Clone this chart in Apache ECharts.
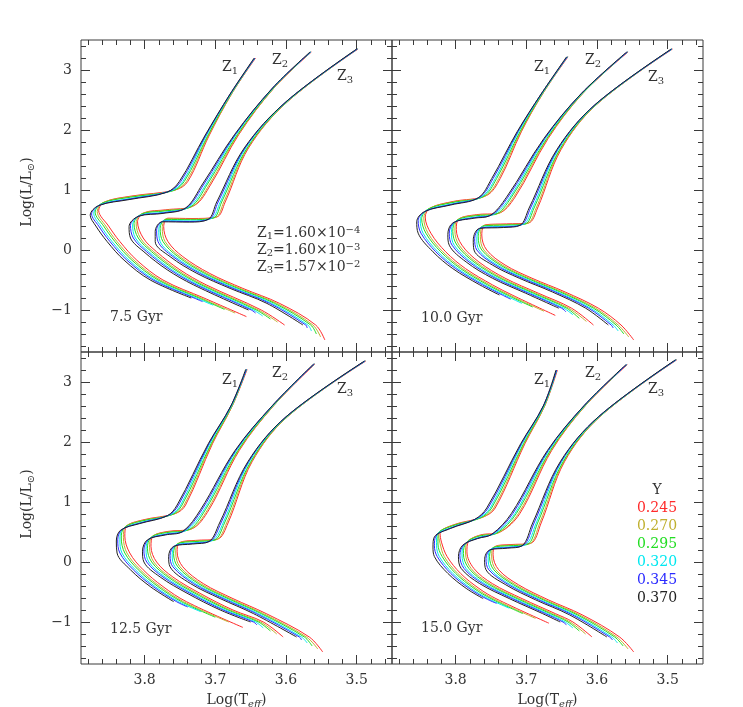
<!DOCTYPE html>
<html><head><meta charset="utf-8">
<script src="https://cdn.jsdelivr.net/npm/echarts@6.0.0/dist/echarts.min.js"></script>
<style>html,body{margin:0;padding:0;background:#fff}#c{width:743px;height:707px}</style>
</head><body><div id="c"></div>
<script>
// ---------- labels / ticks ----------
const Y_VALUES = ['0.245', '0.270', '0.295', '0.320', '0.345', '0.370'];
const Y_COLORS = ['#ff2a2a', '#c0b030', '#22dd22', '#00e8f0', '#2a2aff', '#222222'];
const AGES = ['7.5 Gyr', '10.0 Gyr', '12.5 Gyr', '15.0 Gyr'];
const Z_NAMES = ['1', '2', '3'];
const Z_MANT = ['1.60', '1.60', '1.57'];
const Z_EXP = ['\u22124', '\u22123', '\u22122'];
const X_MAJOR = [3.5, 3.6, 3.7, 3.8];
const X_MINOR = [3.46, 3.48, 3.52, 3.54, 3.56, 3.58, 3.62, 3.64, 3.66, 3.68, 3.72, 3.74, 3.76, 3.78, 3.82, 3.84, 3.86, 3.88];
const Y_MAJOR = [-1, 0, 1, 2, 3];
const Y_MINOR = [-1.6, -1.4, -1.2, -0.8, -0.6, -0.4, -0.2, 0.2, 0.4, 0.6, 0.8, 1.2, 1.4, 1.6, 1.8, 2.2, 2.4, 2.6, 2.8, 3.2, 3.4];

// ---------- isochrones [logTeff, logL], order of Y_VALUES ----------
const iso75_Z1 = [
 [[3.656,-1.11],[3.716,-0.80],[3.774,-0.50],[3.811,-0.17],[3.835,0.14],[3.851,0.40],[3.865,0.66],[3.857,0.80],[3.818,0.90],[3.757,1.00],[3.739,1.14],[3.709,1.90],[3.677,2.60],[3.643,3.20]],
 [[3.672,-1.05],[3.720,-0.80],[3.778,-0.50],[3.815,-0.17],[3.839,0.14],[3.855,0.40],[3.867,0.64],[3.859,0.79],[3.819,0.89],[3.759,0.99],[3.741,1.14],[3.710,1.90],[3.677,2.60],[3.644,3.20]],
 [[3.687,-0.99],[3.723,-0.80],[3.781,-0.50],[3.818,-0.17],[3.842,0.14],[3.858,0.40],[3.870,0.63],[3.860,0.78],[3.820,0.88],[3.762,0.98],[3.744,1.14],[3.711,1.90],[3.678,2.60],[3.644,3.20]],
 [[3.703,-0.92],[3.727,-0.80],[3.785,-0.50],[3.822,-0.17],[3.846,0.14],[3.862,0.40],[3.872,0.61],[3.862,0.76],[3.820,0.86],[3.764,0.98],[3.746,1.14],[3.713,1.90],[3.678,2.60],[3.644,3.20]],
 [[3.718,-0.86],[3.730,-0.80],[3.788,-0.50],[3.825,-0.17],[3.849,0.14],[3.865,0.40],[3.875,0.60],[3.863,0.75],[3.821,0.85],[3.767,0.97],[3.749,1.14],[3.714,1.90],[3.679,2.60],[3.644,3.20]],
 [[3.734,-0.80],[3.792,-0.50],[3.829,-0.17],[3.853,0.14],[3.869,0.40],[3.877,0.58],[3.865,0.74],[3.822,0.84],[3.769,0.96],[3.751,1.14],[3.715,1.90],[3.679,2.60],[3.645,3.20]]
];
const iso75_Z2 = [
 [[3.602,-1.25],[3.635,-1.00],[3.713,-0.58],[3.750,-0.33],[3.783,-0.03],[3.802,0.20],[3.810,0.47],[3.801,0.62],[3.770,0.67],[3.730,0.74],[3.706,1.10],[3.667,1.92],[3.617,2.70],[3.564,3.30]],
 [[3.612,-1.20],[3.639,-1.00],[3.717,-0.58],[3.754,-0.33],[3.787,-0.03],[3.806,0.20],[3.812,0.45],[3.803,0.61],[3.771,0.66],[3.732,0.73],[3.708,1.10],[3.668,1.92],[3.617,2.70],[3.565,3.30]],
 [[3.622,-1.15],[3.642,-1.00],[3.720,-0.58],[3.757,-0.33],[3.790,-0.03],[3.809,0.20],[3.815,0.44],[3.804,0.60],[3.772,0.65],[3.735,0.72],[3.711,1.10],[3.669,1.92],[3.618,2.70],[3.565,3.30]],
 [[3.633,-1.10],[3.646,-1.00],[3.724,-0.58],[3.761,-0.33],[3.794,-0.03],[3.813,0.20],[3.817,0.42],[3.806,0.58],[3.772,0.63],[3.737,0.72],[3.713,1.10],[3.671,1.92],[3.618,2.70],[3.565,3.30]],
 [[3.643,-1.05],[3.649,-1.00],[3.727,-0.58],[3.764,-0.33],[3.797,-0.03],[3.816,0.20],[3.820,0.41],[3.807,0.57],[3.773,0.62],[3.740,0.71],[3.716,1.10],[3.672,1.92],[3.619,2.70],[3.565,3.30]],
 [[3.653,-1.00],[3.731,-0.58],[3.768,-0.33],[3.801,-0.03],[3.820,0.20],[3.822,0.39],[3.809,0.56],[3.774,0.61],[3.742,0.70],[3.718,1.10],[3.673,1.92],[3.619,2.70],[3.566,3.30]]
];
const iso75_Z3 = [
 [[3.545,-1.50],[3.558,-1.25],[3.609,-0.89],[3.661,-0.64],[3.708,-0.39],[3.746,-0.11],[3.767,0.14],[3.773,0.39],[3.767,0.53],[3.733,0.525],[3.698,0.55],[3.686,0.80],[3.653,1.70],[3.598,2.47],[3.498,3.35]],
 [[3.551,-1.45],[3.562,-1.25],[3.613,-0.89],[3.665,-0.64],[3.712,-0.39],[3.750,-0.11],[3.771,0.14],[3.775,0.37],[3.769,0.52],[3.734,0.515],[3.700,0.54],[3.688,0.80],[3.654,1.70],[3.598,2.47],[3.499,3.35]],
 [[3.557,-1.40],[3.565,-1.25],[3.616,-0.89],[3.668,-0.64],[3.715,-0.39],[3.753,-0.11],[3.774,0.14],[3.778,0.36],[3.770,0.51],[3.735,0.505],[3.703,0.53],[3.691,0.80],[3.655,1.70],[3.599,2.47],[3.499,3.35]],
 [[3.564,-1.35],[3.569,-1.25],[3.620,-0.89],[3.672,-0.64],[3.719,-0.39],[3.757,-0.11],[3.778,0.14],[3.780,0.34],[3.772,0.49],[3.735,0.485],[3.705,0.53],[3.693,0.80],[3.657,1.70],[3.599,2.47],[3.499,3.35]],
 [[3.570,-1.30],[3.572,-1.25],[3.623,-0.89],[3.675,-0.64],[3.722,-0.39],[3.760,-0.11],[3.781,0.14],[3.783,0.33],[3.773,0.48],[3.736,0.475],[3.708,0.52],[3.696,0.80],[3.658,1.70],[3.600,2.47],[3.499,3.35]],
 [[3.576,-1.25],[3.627,-0.89],[3.679,-0.64],[3.726,-0.39],[3.764,-0.11],[3.785,0.14],[3.785,0.31],[3.775,0.47],[3.737,0.465],[3.710,0.51],[3.698,0.80],[3.659,1.70],[3.600,2.47],[3.500,3.35]]
];
const iso100_Z1 = [
 [[3.659,-1.09],[3.720,-0.75],[3.748,-0.58],[3.786,-0.31],[3.814,-0.03],[3.835,0.28],[3.843,0.55],[3.836,0.70],[3.803,0.81],[3.756,0.91],[3.737,1.19],[3.707,1.97],[3.677,2.60],[3.641,3.22]],
 [[3.675,-1.02],[3.724,-0.75],[3.752,-0.58],[3.790,-0.31],[3.818,-0.03],[3.839,0.28],[3.845,0.53],[3.838,0.69],[3.804,0.80],[3.758,0.90],[3.739,1.19],[3.708,1.97],[3.677,2.60],[3.642,3.22]],
 [[3.691,-0.95],[3.727,-0.75],[3.755,-0.58],[3.793,-0.31],[3.821,-0.03],[3.842,0.28],[3.848,0.52],[3.839,0.68],[3.805,0.79],[3.761,0.89],[3.742,1.19],[3.709,1.97],[3.678,2.60],[3.642,3.22]],
 [[3.706,-0.89],[3.731,-0.75],[3.759,-0.58],[3.797,-0.31],[3.825,-0.03],[3.846,0.28],[3.850,0.50],[3.841,0.66],[3.805,0.77],[3.763,0.89],[3.744,1.19],[3.711,1.97],[3.678,2.60],[3.642,3.22]],
 [[3.722,-0.82],[3.734,-0.75],[3.762,-0.58],[3.800,-0.31],[3.828,-0.03],[3.849,0.28],[3.853,0.49],[3.842,0.65],[3.806,0.76],[3.766,0.88],[3.747,1.19],[3.712,1.97],[3.679,2.60],[3.642,3.22]],
 [[3.738,-0.75],[3.766,-0.58],[3.804,-0.31],[3.832,-0.03],[3.853,0.28],[3.855,0.47],[3.844,0.64],[3.807,0.75],[3.768,0.87],[3.749,1.19],[3.713,1.97],[3.679,2.60],[3.643,3.22]]
];
const iso100_Z2 = [
 [[3.605,-1.25],[3.636,-0.97],[3.683,-0.72],[3.730,-0.47],[3.767,-0.20],[3.791,0.08],[3.799,0.34],[3.796,0.51],[3.770,0.59],[3.740,0.61],[3.716,0.88],[3.669,1.86],[3.620,2.61],[3.556,3.30]],
 [[3.615,-1.19],[3.640,-0.97],[3.687,-0.72],[3.734,-0.47],[3.771,-0.20],[3.795,0.08],[3.801,0.32],[3.798,0.50],[3.771,0.58],[3.742,0.60],[3.718,0.88],[3.670,1.86],[3.620,2.61],[3.557,3.30]],
 [[3.625,-1.14],[3.643,-0.97],[3.690,-0.72],[3.737,-0.47],[3.774,-0.20],[3.798,0.08],[3.804,0.31],[3.799,0.49],[3.772,0.57],[3.745,0.59],[3.721,0.88],[3.671,1.86],[3.621,2.61],[3.557,3.30]],
 [[3.634,-1.08],[3.647,-0.97],[3.694,-0.72],[3.741,-0.47],[3.778,-0.20],[3.802,0.08],[3.806,0.29],[3.801,0.47],[3.772,0.55],[3.747,0.59],[3.723,0.88],[3.673,1.86],[3.621,2.61],[3.557,3.30]],
 [[3.644,-1.03],[3.650,-0.97],[3.697,-0.72],[3.744,-0.47],[3.781,-0.20],[3.805,0.08],[3.809,0.28],[3.802,0.46],[3.773,0.54],[3.750,0.58],[3.726,0.88],[3.674,1.86],[3.622,2.61],[3.557,3.30]],
 [[3.654,-0.97],[3.701,-0.72],[3.748,-0.47],[3.785,-0.20],[3.809,0.08],[3.811,0.26],[3.804,0.45],[3.774,0.53],[3.752,0.57],[3.728,0.88],[3.675,1.86],[3.622,2.61],[3.558,3.30]]
];
const iso100_Z3 = [
 [[3.548,-1.50],[3.566,-1.25],[3.598,-0.97],[3.645,-0.70],[3.692,-0.47],[3.730,-0.25],[3.756,0.00],[3.763,0.25],[3.758,0.42],[3.728,0.435],[3.697,0.45],[3.684,0.70],[3.651,1.67],[3.601,2.42],[3.493,3.35]],
 [[3.555,-1.45],[3.570,-1.25],[3.602,-0.97],[3.649,-0.70],[3.696,-0.47],[3.734,-0.25],[3.760,0.00],[3.765,0.23],[3.760,0.41],[3.729,0.425],[3.699,0.44],[3.686,0.70],[3.652,1.67],[3.601,2.42],[3.494,3.35]],
 [[3.562,-1.40],[3.573,-1.25],[3.605,-0.97],[3.652,-0.70],[3.699,-0.47],[3.737,-0.25],[3.763,0.00],[3.768,0.22],[3.761,0.40],[3.730,0.415],[3.702,0.43],[3.689,0.70],[3.653,1.67],[3.602,2.42],[3.494,3.35]],
 [[3.570,-1.35],[3.577,-1.25],[3.609,-0.97],[3.656,-0.70],[3.703,-0.47],[3.741,-0.25],[3.767,0.00],[3.770,0.20],[3.763,0.38],[3.730,0.395],[3.704,0.43],[3.691,0.70],[3.655,1.67],[3.602,2.42],[3.494,3.35]],
 [[3.577,-1.30],[3.580,-1.25],[3.612,-0.97],[3.659,-0.70],[3.706,-0.47],[3.744,-0.25],[3.770,0.00],[3.773,0.19],[3.764,0.37],[3.731,0.385],[3.707,0.42],[3.694,0.70],[3.656,1.67],[3.603,2.42],[3.494,3.35]],
 [[3.584,-1.25],[3.616,-0.97],[3.663,-0.70],[3.710,-0.47],[3.748,-0.25],[3.774,0.00],[3.775,0.17],[3.766,0.36],[3.732,0.375],[3.709,0.41],[3.696,0.70],[3.657,1.67],[3.603,2.42],[3.495,3.35]]
];
const iso125_Z1 = [
 [[3.661,-1.09],[3.741,-0.66],[3.774,-0.41],[3.802,-0.13],[3.821,0.15],[3.828,0.43],[3.826,0.59],[3.803,0.70],[3.756,0.81],[3.742,0.95],[3.704,1.97],[3.676,2.60],[3.655,3.21]],
 [[3.681,-1.00],[3.745,-0.66],[3.778,-0.41],[3.806,-0.13],[3.825,0.15],[3.830,0.41],[3.828,0.58],[3.804,0.69],[3.758,0.80],[3.744,0.95],[3.705,1.97],[3.676,2.60],[3.656,3.21]],
 [[3.700,-0.92],[3.748,-0.66],[3.781,-0.41],[3.809,-0.13],[3.828,0.15],[3.833,0.40],[3.829,0.57],[3.805,0.68],[3.761,0.79],[3.747,0.95],[3.706,1.97],[3.677,2.60],[3.656,3.21]],
 [[3.720,-0.83],[3.752,-0.66],[3.785,-0.41],[3.813,-0.13],[3.832,0.15],[3.835,0.38],[3.831,0.55],[3.805,0.66],[3.763,0.79],[3.749,0.95],[3.708,1.97],[3.677,2.60],[3.656,3.21]],
 [[3.739,-0.75],[3.755,-0.66],[3.788,-0.41],[3.816,-0.13],[3.835,0.15],[3.838,0.37],[3.832,0.54],[3.806,0.65],[3.766,0.78],[3.752,0.95],[3.709,1.97],[3.678,2.60],[3.656,3.21]],
 [[3.759,-0.66],[3.792,-0.41],[3.820,-0.13],[3.839,0.15],[3.840,0.35],[3.834,0.53],[3.807,0.64],[3.768,0.77],[3.754,0.95],[3.710,1.97],[3.678,2.60],[3.657,3.21]]
];
const iso125_Z2 = [
 [[3.604,-1.25],[3.632,-1.00],[3.675,-0.80],[3.722,-0.52],[3.760,-0.25],[3.783,0.00],[3.791,0.26],[3.788,0.43],[3.767,0.51],[3.734,0.55],[3.709,0.87],[3.666,1.86],[3.617,2.61],[3.559,3.30]],
 [[3.613,-1.20],[3.636,-1.00],[3.679,-0.80],[3.726,-0.52],[3.764,-0.25],[3.787,0.00],[3.793,0.24],[3.790,0.42],[3.768,0.50],[3.736,0.54],[3.711,0.87],[3.667,1.86],[3.617,2.61],[3.560,3.30]],
 [[3.622,-1.15],[3.639,-1.00],[3.682,-0.80],[3.729,-0.52],[3.767,-0.25],[3.790,0.00],[3.796,0.23],[3.791,0.41],[3.769,0.49],[3.739,0.53],[3.714,0.87],[3.668,1.86],[3.618,2.61],[3.560,3.30]],
 [[3.632,-1.10],[3.643,-1.00],[3.686,-0.80],[3.733,-0.52],[3.771,-0.25],[3.794,0.00],[3.798,0.21],[3.793,0.39],[3.769,0.47],[3.741,0.53],[3.716,0.87],[3.670,1.86],[3.618,2.61],[3.560,3.30]],
 [[3.641,-1.05],[3.646,-1.00],[3.689,-0.80],[3.736,-0.52],[3.774,-0.25],[3.797,0.00],[3.801,0.20],[3.794,0.38],[3.770,0.46],[3.744,0.52],[3.719,0.87],[3.671,1.86],[3.619,2.61],[3.560,3.30]],
 [[3.650,-1.00],[3.693,-0.80],[3.740,-0.52],[3.778,-0.25],[3.801,0.00],[3.803,0.18],[3.796,0.37],[3.771,0.45],[3.746,0.51],[3.721,0.87],[3.672,1.86],[3.619,2.61],[3.561,3.30]]
];
const iso125_Z3 = [
 [[3.548,-1.50],[3.567,-1.25],[3.628,-0.86],[3.675,-0.61],[3.717,-0.36],[3.746,-0.08],[3.754,0.17],[3.751,0.32],[3.728,0.36],[3.697,0.38],[3.682,0.65],[3.648,1.67],[3.598,2.42],[3.487,3.35]],
 [[3.555,-1.45],[3.571,-1.25],[3.632,-0.86],[3.679,-0.61],[3.721,-0.36],[3.750,-0.08],[3.756,0.15],[3.753,0.31],[3.729,0.35],[3.699,0.37],[3.684,0.65],[3.649,1.67],[3.598,2.42],[3.488,3.35]],
 [[3.563,-1.40],[3.574,-1.25],[3.635,-0.86],[3.682,-0.61],[3.724,-0.36],[3.753,-0.08],[3.759,0.14],[3.754,0.30],[3.730,0.34],[3.702,0.36],[3.687,0.65],[3.650,1.67],[3.599,2.42],[3.488,3.35]],
 [[3.570,-1.35],[3.578,-1.25],[3.639,-0.86],[3.686,-0.61],[3.728,-0.36],[3.757,-0.08],[3.761,0.12],[3.756,0.28],[3.730,0.32],[3.704,0.36],[3.689,0.65],[3.652,1.67],[3.599,2.42],[3.488,3.35]],
 [[3.578,-1.30],[3.581,-1.25],[3.642,-0.86],[3.689,-0.61],[3.731,-0.36],[3.760,-0.08],[3.764,0.11],[3.757,0.27],[3.731,0.31],[3.707,0.35],[3.692,0.65],[3.653,1.67],[3.600,2.42],[3.488,3.35]],
 [[3.585,-1.25],[3.646,-0.86],[3.693,-0.61],[3.735,-0.36],[3.764,-0.08],[3.766,0.09],[3.759,0.26],[3.732,0.30],[3.709,0.34],[3.694,0.65],[3.654,1.67],[3.600,2.42],[3.489,3.35]]
];
const iso150_Z1 = [
 [[3.668,-1.02],[3.743,-0.61],[3.767,-0.44],[3.793,-0.19],[3.812,0.09],[3.820,0.33],[3.822,0.48],[3.803,0.62],[3.761,0.75],[3.744,0.90],[3.702,1.97],[3.674,2.60],[3.656,3.20]],
 [[3.687,-0.94],[3.747,-0.61],[3.771,-0.44],[3.797,-0.19],[3.816,0.09],[3.822,0.31],[3.824,0.47],[3.804,0.61],[3.763,0.74],[3.746,0.90],[3.703,1.97],[3.674,2.60],[3.657,3.20]],
 [[3.705,-0.86],[3.750,-0.61],[3.774,-0.44],[3.800,-0.19],[3.819,0.09],[3.825,0.30],[3.825,0.46],[3.805,0.60],[3.766,0.73],[3.749,0.90],[3.704,1.97],[3.675,2.60],[3.657,3.20]],
 [[3.724,-0.77],[3.754,-0.61],[3.778,-0.44],[3.804,-0.19],[3.823,0.09],[3.827,0.28],[3.827,0.44],[3.805,0.58],[3.768,0.73],[3.751,0.90],[3.706,1.97],[3.675,2.60],[3.657,3.20]],
 [[3.742,-0.69],[3.757,-0.61],[3.781,-0.44],[3.807,-0.19],[3.826,0.09],[3.830,0.27],[3.828,0.43],[3.806,0.57],[3.771,0.72],[3.754,0.90],[3.707,1.97],[3.676,2.60],[3.657,3.20]],
 [[3.761,-0.61],[3.785,-0.44],[3.811,-0.19],[3.830,0.09],[3.832,0.25],[3.830,0.42],[3.807,0.56],[3.773,0.71],[3.756,0.90],[3.708,1.97],[3.676,2.60],[3.658,3.20]]
];
const iso150_Z2 = [
 [[3.607,-1.25],[3.634,-1.00],[3.659,-0.86],[3.706,-0.61],[3.748,-0.36],[3.774,-0.11],[3.784,0.17],[3.782,0.34],[3.765,0.45],[3.737,0.50],[3.709,0.81],[3.664,1.86],[3.616,2.61],[3.557,3.29]],
 [[3.616,-1.20],[3.638,-1.00],[3.663,-0.86],[3.710,-0.61],[3.752,-0.36],[3.778,-0.11],[3.786,0.15],[3.784,0.33],[3.766,0.44],[3.739,0.49],[3.711,0.81],[3.665,1.86],[3.616,2.61],[3.558,3.29]],
 [[3.625,-1.15],[3.641,-1.00],[3.666,-0.86],[3.713,-0.61],[3.755,-0.36],[3.781,-0.11],[3.789,0.14],[3.785,0.32],[3.767,0.43],[3.742,0.48],[3.714,0.81],[3.666,1.86],[3.617,2.61],[3.558,3.29]],
 [[3.634,-1.10],[3.645,-1.00],[3.670,-0.86],[3.717,-0.61],[3.759,-0.36],[3.785,-0.11],[3.791,0.12],[3.787,0.30],[3.767,0.41],[3.744,0.48],[3.716,0.81],[3.668,1.86],[3.617,2.61],[3.558,3.29]],
 [[3.643,-1.05],[3.648,-1.00],[3.673,-0.86],[3.720,-0.61],[3.762,-0.36],[3.788,-0.11],[3.794,0.11],[3.788,0.29],[3.768,0.40],[3.747,0.47],[3.719,0.81],[3.669,1.86],[3.618,2.61],[3.558,3.29]],
 [[3.652,-1.00],[3.677,-0.86],[3.724,-0.61],[3.766,-0.36],[3.792,-0.11],[3.796,0.09],[3.790,0.28],[3.769,0.39],[3.749,0.46],[3.721,0.81],[3.670,1.86],[3.618,2.61],[3.559,3.29]]
];
const iso150_Z3 = [
 [[3.548,-1.50],[3.568,-1.25],[3.621,-0.88],[3.669,-0.63],[3.711,-0.38],[3.739,-0.13],[3.747,0.12],[3.744,0.26],[3.723,0.29],[3.694,0.31],[3.679,0.65],[3.646,1.67],[3.596,2.42],[3.487,3.37]],
 [[3.556,-1.45],[3.572,-1.25],[3.625,-0.88],[3.673,-0.63],[3.715,-0.38],[3.743,-0.13],[3.749,0.10],[3.746,0.25],[3.724,0.28],[3.696,0.30],[3.681,0.65],[3.647,1.67],[3.596,2.42],[3.488,3.37]],
 [[3.563,-1.40],[3.575,-1.25],[3.628,-0.88],[3.676,-0.63],[3.718,-0.38],[3.746,-0.13],[3.752,0.09],[3.747,0.24],[3.725,0.27],[3.699,0.29],[3.684,0.65],[3.648,1.67],[3.597,2.42],[3.488,3.37]],
 [[3.571,-1.35],[3.579,-1.25],[3.632,-0.88],[3.680,-0.63],[3.722,-0.38],[3.750,-0.13],[3.754,0.07],[3.749,0.22],[3.725,0.25],[3.701,0.29],[3.686,0.65],[3.650,1.67],[3.597,2.42],[3.488,3.37]],
 [[3.578,-1.30],[3.582,-1.25],[3.635,-0.88],[3.683,-0.63],[3.725,-0.38],[3.753,-0.13],[3.757,0.06],[3.750,0.21],[3.726,0.24],[3.704,0.28],[3.689,0.65],[3.651,1.67],[3.598,2.42],[3.488,3.37]],
 [[3.586,-1.25],[3.639,-0.88],[3.687,-0.63],[3.729,-0.38],[3.757,-0.13],[3.759,0.04],[3.752,0.20],[3.727,0.23],[3.706,0.27],[3.691,0.65],[3.652,1.67],[3.598,2.42],[3.489,3.37]]
];

// ---------- layout (pixels) ----------
const FONT = 'DejaVu Serif';
const TEXT_C = '#333333';
const AXIS_C = '#3a3a3a';
const GRIDS = [[81, 40], [392, 40], [81, 352], [392, 352]];
const GW = 311, GH = 312;
const ZLAB_POS = [
  [[222, 67], [272, 60], [337, 76]],
  [[534, 67], [585, 60], [648, 77]],
  [[222, 380], [272, 373], [337, 389]],
  [[534, 380], [585, 373], [648, 389]]
];
const AGE_POS = [[110, 317], [421, 318], [110, 629], [421, 628]];

const PANELS = [
  [iso75_Z1, iso75_Z2, iso75_Z3],
  [iso100_Z1, iso100_Z2, iso100_Z3],
  [iso125_Z1, iso125_Z2, iso125_Z3],
  [iso150_Z1, iso150_Z2, iso150_Z3]
];

// text pieces with sub/superscripts, laid out by measured widths
const mctx = document.createElement('canvas').getContext('2d');
function tw(t, size, it) { mctx.font = (it ? 'italic ' : '') + size + 'px "' + FONT + '"'; return mctx.measureText(t).width; }
// parts: [text, fontSize, dy, italic]
function compound(x, cy, parts, color, centered, rotation) {
  let total = 0;
  parts.forEach(p => { total += tw(p[0], p[1], p[3]); });
  let cx = centered ? -total / 2 : 0;
  const children = parts.map(p => {
    const el = { type: 'text', silent: true, x: cx, y: p[2], style: { text: p[0], fontFamily: FONT, fontSize: p[1], fontStyle: p[3] ? 'italic' : 'normal', fill: color, align: 'left', verticalAlign: 'middle' } };
    cx += tw(p[0], p[1], p[3]);
    return el;
  });
  return { type: 'group', x: x, y: cy, rotation: rotation || 0, silent: true, children: children };
}

function fmtY(v) { return v < 0 ? '\u2212' + Math.abs(v) : String(v); }

const grid = [], xAxis = [], yAxis = [], series = [], graphic = [];
GRIDS.forEach(([l, t], g) => {
  grid.push({ left: l, top: t, width: GW, height: GH, show: true, borderColor: AXIS_C, borderWidth: 1, backgroundColor: 'rgba(0,0,0,0)', containLabel: false });
  const bottomRow = g >= 2, leftCol = g % 2 === 0;
  const mkX = (pos, vals, len, lab) => ({
    gridIndex: g, type: 'value', min: 3.45, max: 3.89, inverse: true, position: pos,
    axisLine: { show: false, onZero: false }, splitLine: { show: false },
    axisTick: { show: true, inside: true, length: len, customValues: vals, lineStyle: { color: AXIS_C, width: 1 } },
    axisLabel: { show: lab, customValues: X_MAJOR, margin: 9, fontFamily: FONT, fontSize: 14, color: TEXT_C, formatter: v => v.toFixed(1) }
  });
  const mkY = (pos, vals, len, lab) => ({
    gridIndex: g, type: 'value', min: -1.7, max: 3.5, position: pos,
    axisLine: { show: false, onZero: false }, splitLine: { show: false },
    axisTick: { show: true, inside: true, length: len, customValues: vals, lineStyle: { color: AXIS_C, width: 1 } },
    axisLabel: { show: lab, customValues: Y_MAJOR, margin: 9, fontFamily: FONT, fontSize: 14, color: TEXT_C, formatter: fmtY }
  });
  xAxis.push(mkX('bottom', X_MAJOR, 9, bottomRow), mkX('bottom', X_MINOR, 5, false), mkX('top', X_MAJOR, 9, false), mkX('top', X_MINOR, 5, false));
  yAxis.push(mkY('left', Y_MAJOR, 9, leftCol), mkY('left', Y_MINOR, 5, false), mkY('right', Y_MAJOR, 9, false), mkY('right', Y_MINOR, 5, false));

  PANELS[g].forEach((zset) => {
    zset.forEach((curve, i) => {
      series.push({
        type: 'line', xAxisIndex: 4 * g, yAxisIndex: 4 * g, data: curve,
        showSymbol: false, symbol: 'none', smooth: 0.35, silent: true, z: 2 + i,
        lineStyle: { color: Y_COLORS[i], width: 1 }
      });
    });
  });

  ZLAB_POS[g].forEach(([x, cy], k) => {
    graphic.push(compound(x, cy, [['Z', 14, 0], [Z_NAMES[k], 10, 4.5]], TEXT_C, false));
  });
  graphic.push(compound(AGE_POS[g][0], AGE_POS[g][1], [[AGES[g], 14, 0]], TEXT_C, false));

  // axis titles
  if (bottomRow) graphic.push(compound(l + GW / 2, 700, [['Log(T', 14, 0], ['eff', 10, 4.5, true], [')', 14, 0]], TEXT_C, true));
  if (leftCol) graphic.push(compound(27, t + GH / 2 - 4, [['Log(L/L', 14, 0], ['\u2299', 10, 4.5], [')', 14, 0]], TEXT_C, true, Math.PI / 2));
});

// metallicity annotation (top-left panel)
[233, 250, 267].forEach((cy, k) => {
  graphic.push(compound(257, cy, [['Z', 14, 0], [Z_NAMES[k], 10, 3.5], ['=' + Z_MANT[k] + '\u00d710', 14, 0], [Z_EXP[k], 10, -3]], TEXT_C, false));
});

// Y legend (bottom-right panel)
graphic.push(compound(657, 490, [['Y', 14, 0]], TEXT_C, true));
Y_VALUES.forEach((v, i) => {
  graphic.push(compound(657, 508 + 18 * i, [[v, 14, 0]], Y_COLORS[i], true));
});

const chart = echarts.init(document.getElementById('c'), null, { renderer: 'canvas' });
chart.setOption({
  backgroundColor: '#ffffff',
  animation: false,
  grid, xAxis, yAxis, series, graphic
});
</script></body></html>
